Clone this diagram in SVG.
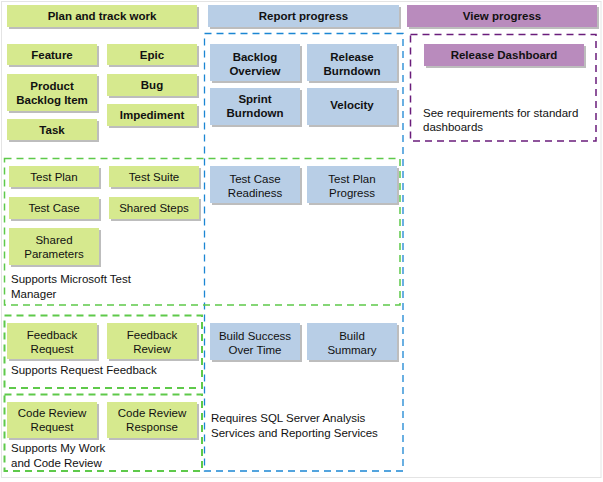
<svg xmlns="http://www.w3.org/2000/svg" width="603" height="482" viewBox="0 0 603 482">
<style>
text{font-family:"Liberation Sans",Arial,sans-serif;font-size:11.5px;fill:#111;}
.c{text-anchor:middle;}
.b{font-weight:bold;}
.sh{fill:#bdbdbd;}
.g{fill:#d6e98e;}
.bl{fill:#b8cee6;}
.p{fill:#b98bbd;}
.dg{fill:none;stroke:#5ec94a;stroke-width:1.5;stroke-dasharray:7 5;}
.db{fill:none;stroke:#1b86d3;stroke-width:1.3;stroke-dasharray:7 5;}
.dp{fill:none;stroke:#6a1d7b;stroke-width:1.5;stroke-dasharray:7 5;}
</style>
<rect x="0" y="0" width="603" height="482" fill="#fff"/>
<rect x="1.5" y="1.5" width="599.5" height="476" fill="none" stroke="#e4e4e4"/>

<g id="groups">
<rect class="db" x="204.5" y="33.5" width="198.5" height="437.5"/>
<rect class="dp" x="410.5" y="34.5" width="185.5" height="106.5"/>
<rect class="dg" x="4.5" y="158.5" width="395.5" height="146.5"/>
<rect class="dg" x="4.5" y="315.5" width="197.5" height="72.5" style="stroke-width:2"/>
<rect class="dg" x="4.5" y="394.5" width="197.5" height="76.5" style="stroke-width:2"/>
</g>

<g id="headers">
<g id="h-plan"><rect class="sh" x="9" y="7" width="190" height="22"/><rect class="g" x="7" y="5" width="190" height="22"/><text class="c b" x="102" y="20">Plan and track work</text></g>
<g id="h-report"><rect class="sh" x="210" y="7" width="191" height="22"/><rect class="bl" x="208" y="5" width="191" height="22"/><text class="c b" x="303.5" y="20">Report progress</text></g>
<g id="h-view"><rect class="sh" x="409" y="7" width="190" height="22"/><rect class="p" x="407" y="5" width="190" height="22"/><text class="c b" x="502" y="20">View progress</text></g>
</g>

<g id="nodes">
<g id="feature"><rect class="sh" x="9" y="46" width="90" height="21"/><rect class="g" x="7" y="44" width="90" height="21"/><text class="c b" x="52" y="58.5">Feature</text></g>
<g id="epic"><rect class="sh" x="109" y="46" width="90" height="21"/><rect class="g" x="107" y="44" width="90" height="21"/><text class="c b" x="152" y="58.5">Epic</text></g>
<g id="pbi"><rect class="sh" x="9" y="76" width="90" height="37"/><rect class="g" x="7" y="74" width="90" height="37"/><text class="c b" x="52" y="90">Product</text><text class="c b" x="52" y="104">Backlog Item</text></g>
<g id="bug"><rect class="sh" x="109" y="76" width="90" height="22"/><rect class="g" x="107" y="74" width="90" height="22"/><text class="c b" x="152" y="89">Bug</text></g>
<g id="impediment"><rect class="sh" x="109" y="106" width="90" height="22"/><rect class="g" x="107" y="104" width="90" height="22"/><text class="c b" x="152" y="119">Impediment</text></g>
<g id="task"><rect class="sh" x="9" y="121" width="90" height="21"/><rect class="g" x="7" y="119" width="90" height="21"/><text class="c b" x="52" y="134">Task</text></g>

<g id="testplan"><rect class="sh" x="11" y="168" width="90" height="21"/><rect class="g" x="9" y="166" width="90" height="21"/><text class="c" x="54" y="180.5">Test Plan</text></g>
<g id="testsuite"><rect class="sh" x="111" y="168" width="90" height="21"/><rect class="g" x="109" y="166" width="90" height="21"/><text class="c" x="154" y="180.5">Test Suite</text></g>
<g id="testcase"><rect class="sh" x="11" y="199" width="90" height="22"/><rect class="g" x="9" y="197" width="90" height="22"/><text class="c" x="54" y="212">Test Case</text></g>
<g id="sharedsteps"><rect class="sh" x="111" y="199" width="90" height="22"/><rect class="g" x="109" y="197" width="90" height="22"/><text class="c" x="154" y="212">Shared Steps</text></g>
<g id="sharedparams"><rect class="sh" x="11" y="230" width="90" height="37"/><rect class="g" x="9" y="228" width="90" height="37"/><text class="c" x="54" y="244">Shared</text><text class="c" x="54" y="258">Parameters</text></g>
<text x="11" y="283">Supports Microsoft Test</text>
<text x="11" y="298">Manager</text>

<g id="fbrequest"><rect class="sh" x="9" y="325" width="90" height="36"/><rect class="g" x="7" y="323" width="90" height="36"/><text class="c" x="52" y="339">Feedback</text><text class="c" x="52" y="353">Request</text></g>
<g id="fbreview"><rect class="sh" x="109" y="325" width="90" height="36"/><rect class="g" x="107" y="323" width="90" height="36"/><text class="c" x="152" y="339">Feedback</text><text class="c" x="152" y="353">Review</text></g>
<text x="11" y="374">Supports Request Feedback</text>

<g id="crrequest"><rect class="sh" x="9" y="404" width="90" height="36"/><rect class="g" x="7" y="402" width="90" height="36"/><text class="c" x="52" y="417">Code Review</text><text class="c" x="52" y="431">Request</text></g>
<g id="crresponse"><rect class="sh" x="109" y="404" width="90" height="36"/><rect class="g" x="107" y="402" width="90" height="36"/><text class="c" x="152" y="417">Code Review</text><text class="c" x="152" y="431">Response</text></g>
<text x="11" y="452">Supports My Work</text>
<text x="11" y="467">and Code Review</text>

<g id="backlogoverview"><rect class="sh" x="212" y="46" width="90" height="37"/><rect class="bl" x="210" y="44" width="90" height="37"/><text class="c b" x="255" y="61">Backlog</text><text class="c b" x="255" y="75">Overview</text></g>
<g id="releaseburndown"><rect class="sh" x="309" y="46" width="90" height="37"/><rect class="bl" x="307" y="44" width="90" height="37"/><text class="c b" x="352" y="61">Release</text><text class="c b" x="352" y="75">Burndown</text></g>
<g id="sprintburndown"><rect class="sh" x="212" y="90" width="90" height="37"/><rect class="bl" x="210" y="88" width="90" height="37"/><text class="c b" x="255" y="103">Sprint</text><text class="c b" x="255" y="117">Burndown</text></g>
<g id="velocity"><rect class="sh" x="309" y="90" width="90" height="37"/><rect class="bl" x="307" y="88" width="90" height="37"/><text class="c b" x="352" y="109">Velocity</text></g>

<g id="tcreadiness"><rect class="sh" x="212" y="168" width="90" height="37"/><rect class="bl" x="210" y="166" width="90" height="37"/><text class="c" x="255" y="183">Test Case</text><text class="c" x="255" y="197">Readiness</text></g>
<g id="tpprogress"><rect class="sh" x="309" y="168" width="90" height="37"/><rect class="bl" x="307" y="166" width="90" height="37"/><text class="c" x="352" y="183">Test Plan</text><text class="c" x="352" y="197">Progress</text></g>

<g id="buildsuccess"><rect class="sh" x="212" y="325" width="90" height="37"/><rect class="bl" x="210" y="323" width="90" height="37"/><text class="c" x="255" y="340">Build Success</text><text class="c" x="255" y="354">Over Time</text></g>
<g id="buildsummary"><rect class="sh" x="309" y="325" width="90" height="37"/><rect class="bl" x="307" y="323" width="90" height="37"/><text class="c" x="352" y="340">Build</text><text class="c" x="352" y="354">Summary</text></g>
<text x="211" y="422">Requires SQL Server Analysis</text>
<text x="211" y="437">Services and Reporting Services</text>

<g id="releasedashboard"><rect class="sh" x="426" y="46" width="160" height="22"/><rect class="p" x="424" y="44" width="160" height="22"/><text class="c b" x="504" y="59">Release Dashboard</text></g>
<text x="423" y="117">See requirements for standard</text>
<text x="423" y="131">dashboards</text>
</g>
<g id="connectors"/>
</svg>
